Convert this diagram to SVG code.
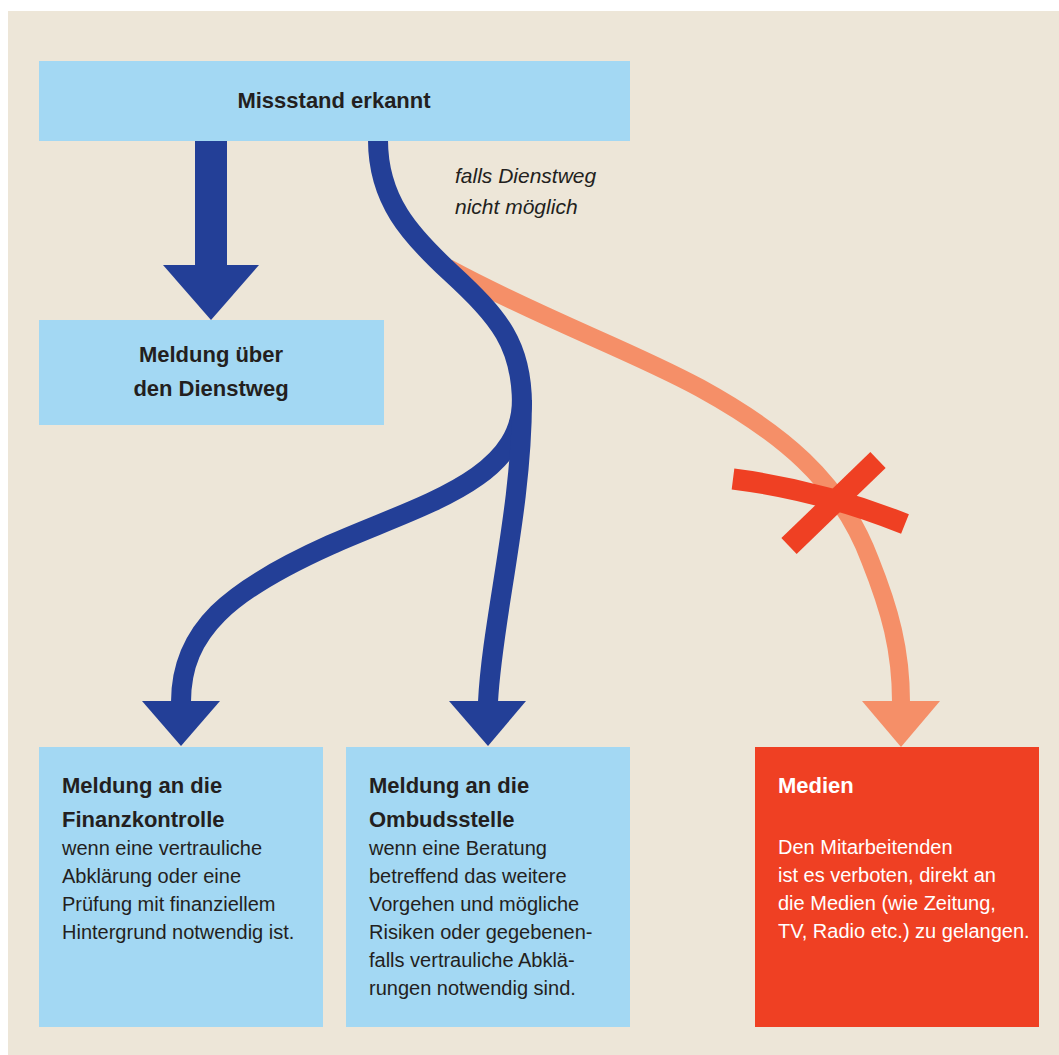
<svg xmlns="http://www.w3.org/2000/svg" width="1059" height="1055" viewBox="0 0 1059 1055">
<style>
.box{fill:#A3D8F3}
.t{font-family:"Liberation Sans",Arial,sans-serif;fill:#231F20}
.b{font-weight:bold;font-size:22px}
.r{font-size:20px}
.w{fill:#FFFFFF}
.blue{fill:none;stroke:#233F97;stroke-width:20}
.bluef{fill:#233F97}
.or{fill:none;stroke:#F58F68;stroke-width:18}
.orf{fill:#F58F68}
.x{fill:none;stroke:#EF4023;stroke-linecap:butt}
</style>
<rect x="0" y="0" width="1059" height="1055" fill="#FFFFFF"/>
<rect x="8" y="11" width="1051" height="1044" fill="#EDE6D8"/>

<g id="connectors">
  <path class="or" d="M448,268 C540,318 630,350 700,388 C780,432 840,480 870,560 C890,610 901,650 901,702"/>
  <polygon class="orf" points="862,701 940,701 901,747"/>
  <rect class="bluef" x="195" y="140" width="32" height="126"/>
  <polygon class="bluef" points="163,265 259,265 211,320"/>
  <path class="blue" d="M378,140 C378,200 410,235 450,272 C500,318 522,345 522,405"/>
  <path class="blue" d="M522,400 C522,480 420,505 330,545 C230,590 181,630 181,702"/>
  <path class="blue" d="M522,400 C522,510 492,620 488,702"/>
  <polygon class="bluef" points="142,701 220,701 181,746"/>
  <polygon class="bluef" points="449,701 526,701 488,746"/>
  <path class="x" stroke-width="21" d="M733,479 Q820,490 905,524"/>
  <path class="x" stroke-width="22" d="M789,546 L878,460"/>
  <text class="t" x="455" y="183" font-size="21" font-style="italic">falls Dienstweg</text>
  <text class="t" x="455" y="214" font-size="21" font-style="italic">nicht möglich</text>
</g>

<g id="node-missstand">
  <rect class="box" x="39" y="61" width="591" height="80"/>
  <text class="t b" x="334" y="108" text-anchor="middle">Missstand erkannt</text>
</g>

<g id="node-dienstweg">
  <rect class="box" x="39" y="320" width="345" height="105"/>
  <text class="t b" x="211" y="362" text-anchor="middle">Meldung über</text>
  <text class="t b" x="211" y="396" text-anchor="middle">den Dienstweg</text>
</g>

<g id="node-finanzkontrolle">
  <rect class="box" x="39" y="747" width="284" height="280"/>
  <text class="t b" x="62" y="793">Meldung an die</text>
  <text class="t b" x="62" y="827">Finanzkontrolle</text>
  <text class="t r" x="62" y="855">wenn eine vertrauliche</text>
  <text class="t r" x="62" y="883">Abklärung oder eine</text>
  <text class="t r" x="62" y="911">Prüfung mit finanziellem</text>
  <text class="t r" x="62" y="939">Hintergrund notwendig ist.</text>
</g>

<g id="node-ombudsstelle">
  <rect class="box" x="346" y="747" width="284" height="280"/>
  <text class="t b" x="369" y="793">Meldung an die</text>
  <text class="t b" x="369" y="827">Ombudsstelle</text>
  <text class="t r" x="369" y="855">wenn eine Beratung</text>
  <text class="t r" x="369" y="883">betreffend das weitere</text>
  <text class="t r" x="369" y="911">Vorgehen und mögliche</text>
  <text class="t r" x="369" y="939">Risiken oder gegebenen-</text>
  <text class="t r" x="369" y="967">falls vertrauliche Abklä-</text>
  <text class="t r" x="369" y="995">rungen notwendig sind.</text>
</g>

<g id="node-medien">
  <rect x="755" y="747" width="284" height="280" fill="#EF4023"/>
  <text class="t b w" x="778" y="793">Medien</text>
  <text class="t r w" x="778" y="854">Den Mitarbeitenden</text>
  <text class="t r w" x="778" y="882">ist es verboten, direkt an</text>
  <text class="t r w" x="778" y="910">die Medien (wie Zeitung,</text>
  <text class="t r w" x="778" y="938">TV, Radio etc.) zu gelangen.</text>
</g>
</svg>
